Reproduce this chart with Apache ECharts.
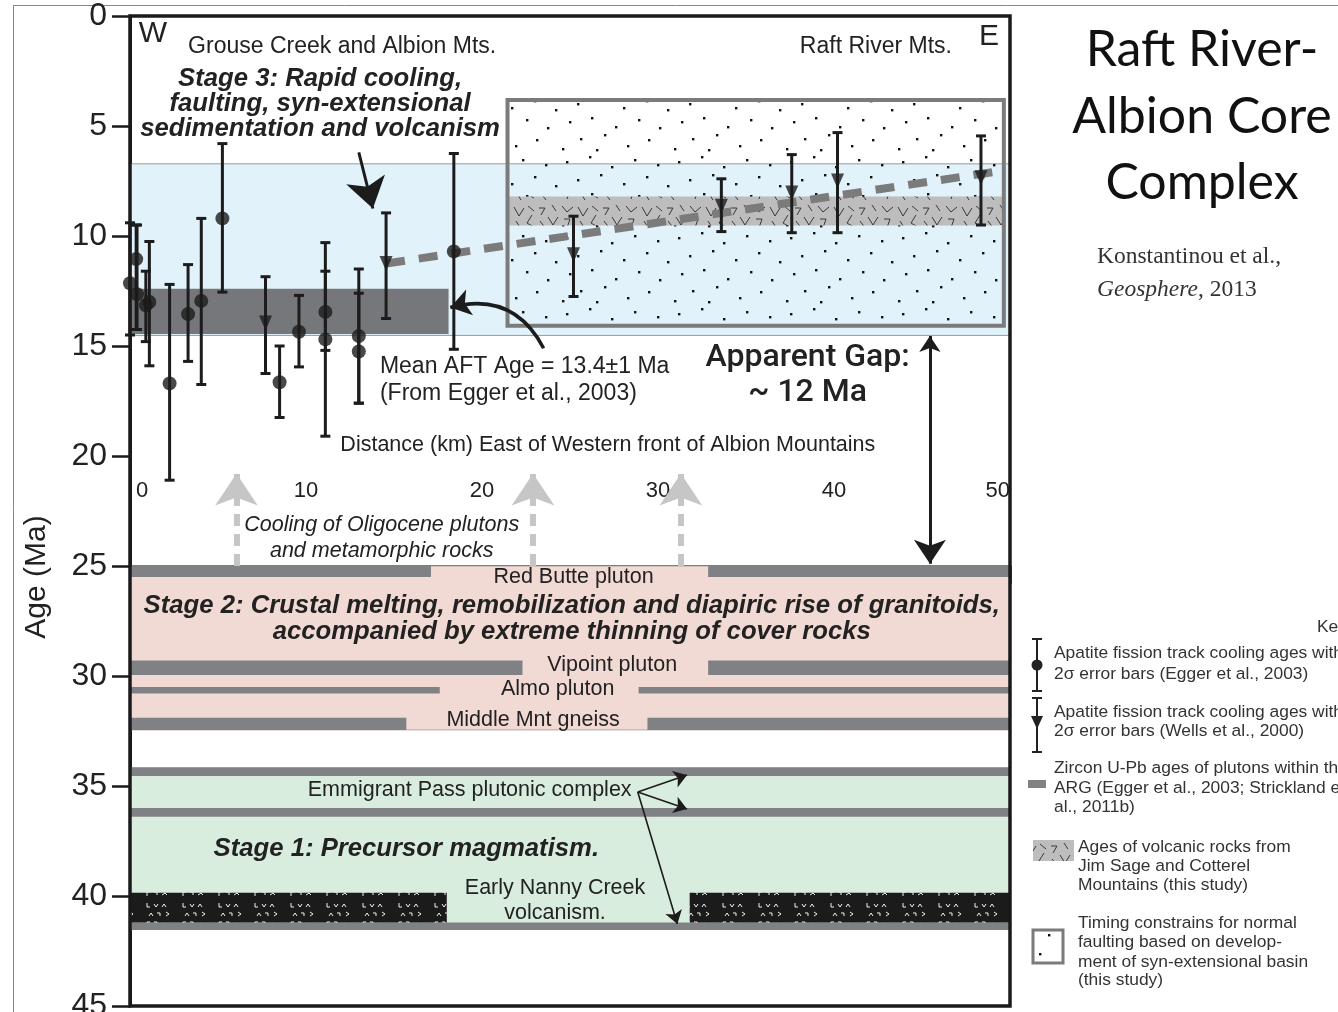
<!DOCTYPE html>
<html>
<head>
<meta charset="utf-8">
<title>Raft River-Albion Core Complex</title>
<script src="https://cdn.jsdelivr.net/npm/echarts@6/dist/echarts.min.js"></script>
<style>
html, body { margin: 0; padding: 0; background: #fff; }
#chart { width: 1338px; height: 1012px; }
</style>
</head>
<body>
<div id="chart"></div>
<script>
// ==============================================================
// data: distance (km) east of Albion front, age (Ma)
// ==============================================================
// [km, age, young end of 2 sigma bar, old end]
var eggerAft = [
    [0.0, 12.15, 9.4, 14.5],
    [0.35, 11.05, 9.5, 14.25],
    [0.4, 12.65, 9.5, 14.25],
    [0.9, 13.15, 11.6, 14.8],
    [1.1, 13.0, 10.25, 15.9],
    [2.25, 16.7, 12.2, 21.1],
    [3.3, 13.55, 11.3, 15.7],
    [4.05, 12.95, 9.2, 16.75],
    [5.25, 9.2, 5.8, 12.55],
    [8.5, 16.65, 15.0, 18.25],
    [9.6, 14.35, 12.7, 15.95],
    [11.1, 13.45, 10.3, 15.2],
    [11.1, 14.7, 11.6, 19.1],
    [13.0, 14.55, 11.5, 17.6],
    [13.0, 15.25, 12.6, 17.6],
    [18.4, 10.7, 6.25, 15.15]
];
var wellsAft = [
    [7.7, 13.95, 11.85, 16.25],
    [14.55, 11.25, 8.95, 13.75],
    [25.2, 10.85, 9.1, 12.75],
    [33.6, 8.65, 7.4, 9.8],
    [37.6, 8.05, 6.3, 9.85],
    [40.2, 7.5, 5.3, 9.85],
    [48.35, 7.35, 5.45, 9.5]
];
var coolingTrend = [[14.55, 11.25], [49.0, 7.1]];

// [km from, km to, age top, age bottom]
var stage3Band = [[0, 50, 6.72, 14.52]];
var meanAftBand = [[0, 18.1, 12.4, 14.45]];
var basinBox = [[21.45, 49.65, 3.82, 14.08]];
var volcanicAges = [[21.45, 49.65, 8.2, 9.52]];
var stage2Band = [[0, 50, 25.0, 32.45]];
var stage1Band = [[0, 50, 34.15, 41.55]];
var zirconBars = [
    [0, 17.1, 25.0, 25.5], [32.85, 50, 25.0, 25.5],
    [0, 22.3, 29.3, 29.95], [32.85, 50, 29.3, 29.95],
    [0, 17.6, 30.5, 30.8], [28.9, 50, 30.5, 30.8],
    [0, 15.7, 31.9, 32.45], [29.4, 50, 31.9, 32.45],
    [0, 50, 34.15, 34.55], [0, 50, 36.0, 36.4], [0, 50, 41.2, 41.55]
];
var nannyCreek = [[0, 18.0, 39.85, 41.2], [31.8, 50, 39.85, 41.2]];

var distanceTicks = [0, 10, 20, 30, 40, 50];

// arrows [[km, age], [km, age]]
var stage3Arrow = [[13.0, 6.2], [13.8, 8.75]];
var aftArrow = [[23.5, 15.1], [18.2, 13.25]];
var gapArrow = [[45.45, 14.55], [45.45, 24.9]];
var coolingArrowsKm = [6.05, 22.9, 31.3];
var emmigrantArrows = [
    [[28.85, 35.27], [31.65, 34.5]],
    [[28.85, 35.27], [31.65, 36.05]],
    [[28.85, 35.27], [31.1, 41.27]]
];

// text notes [km, age, text, font, align]
var notes = [
    [1.3, 0.8, 'W', 'big', 'center'],
    [3.3, 1.4, 'Grouse Creek and Albion Mts.', 'place', 'left'],
    [46.7, 1.38, 'Raft River Mts.', 'place', 'right'],
    [48.8, 0.95, 'E', 'big', 'center'],
    [10.8, 2.85, 'Stage 3: Rapid cooling,', 'stage', 'center'],
    [10.8, 4.0, 'faulting, syn-extensional', 'stage', 'center'],
    [10.8, 5.15, 'sedimentation and volcanism', 'stage', 'center'],
    [14.2, 15.95, 'Mean AFT Age = 13.4\u00b11 Ma', 'label', 'left'],
    [14.2, 17.15, '(From Egger et al., 2003)', 'label', 'left'],
    [38.5, 15.55, 'Apparent Gap:', 'gap', 'center'],
    [38.5, 17.15, '~ 12 Ma', 'gap', 'center'],
    [27.15, 19.5, 'Distance (km) East of Western front of Albion Mountains', 'small', 'center'],
    [14.3, 23.15, 'Cooling of Oligocene plutons', 'cool', 'center'],
    [14.3, 24.32, 'and metamorphic rocks', 'cool', 'center'],
    [25.2, 25.5, 'Red Butte pluton', 'small', 'center'],
    [25.1, 26.82, 'Stage 2: Crustal melting, remobilization and diapiric rise of granitoids,', 'stage', 'center'],
    [25.1, 28.0, 'accompanied by extreme thinning of cover rocks', 'stage', 'center'],
    [27.4, 29.5, 'Vipoint pluton', 'small', 'center'],
    [24.3, 30.6, 'Almo pluton', 'small', 'center'],
    [22.9, 32.0, 'Middle Mnt gneiss', 'small', 'center'],
    [19.3, 35.2, 'Emmigrant Pass plutonic complex', 'small', 'center'],
    [15.7, 37.86, 'Stage 1: Precursor magmatism.', 'stage', 'center'],
    [24.15, 39.64, 'Early Nanny Creek', 'small', 'center'],
    [24.15, 40.77, 'volcanism.', 'small', 'center']
];
var fonts = {
    big: '30px "Liberation Sans"',
    place: '23px "Liberation Sans"',
    stage: 'italic bold 25.7px "Liberation Sans"',
    label: '23px "Liberation Sans"',
    gap: '500 32px Roboto',
    small: '21.5px "Liberation Sans"',
    cool: 'italic 21.5px "Liberation Sans"'
};

// ==============================================================
// fill textures
// ==============================================================
function makeTile(w, h, bg, draw) {
    var c = document.createElement('canvas');
    c.width = w;
    c.height = h;
    var ctx = c.getContext('2d');
    if (bg) {
        ctx.fillStyle = bg;
        ctx.fillRect(0, 0, w, h);
    }
    draw(ctx);
    return c;
}
function strokeAll(ctx, list) {
    list.forEach(function (pts) {
        ctx.beginPath();
        ctx.moveTo(pts[0][0], pts[0][1]);
        for (var i = 1; i < pts.length; i++) ctx.lineTo(pts[i][0], pts[i][1]);
        ctx.stroke();
    });
}
var sandTile = makeTile(112, 76, null, function (ctx) {
    ctx.fillStyle = '#111';
    [[6, 9], [29, 4], [51, 14], [74, 7], [97, 12], [17, 27], [40, 22], [63, 31], [86, 24],
     [107, 33], [9, 45], [31, 41], [55, 50], [78, 43], [99, 51], [20, 62], [44, 58], [67, 69],
     [88, 63], [2, 72], [36, 73]].forEach(function (p) {
        ctx.fillRect(p[0], p[1], 2.4, 2.4);
    });
});
var volcTile = makeTile(64, 29, '#bdbdbd', function (ctx) {
    ctx.strokeStyle = '#3a3a3a';
    ctx.lineWidth = 1;
    strokeAll(ctx, [
        [[2, 4], [7, 13], [12, 5]], [[16, 3], [22, 8]], [[20, 12], [15, 20], [22, 24]],
        [[27, 5], [33, 5], [29, 12]], [[36, 14], [41, 22], [46, 14]], [[50, 3], [55, 9], [61, 4]],
        [[4, 18], [9, 26]], [[28, 18], [34, 26]], [[52, 16], [58, 16], [55, 25]], [[40, 2], [44, 8]]
    ]);
});
var basaltTile = makeTile(36, 30, '#1b1b1b', function (ctx) {
    ctx.strokeStyle = '#f2f2f2';
    ctx.lineWidth = 1;
    strokeAll(ctx, [
        [[3, 3], [3, 7], [6, 7]], [[10, 4], [12, 7], [14, 4]], [[18, 7], [20, 4], [22, 7]],
        [[5, 16], [7, 13], [9, 16]], [[13, 13], [16, 13], [16, 16]], [[22, 12], [25, 14], [22, 16]],
        [[3, 26], [3, 22], [6, 22]], [[10, 22], [13, 22], [13, 25]], [[18, 25], [21, 23], [23, 25]]
    ]);
});
function pattern(tile) {
    return { image: tile, repeat: 'repeat' };
}

// ==============================================================
// series helpers
// ==============================================================
function bandSeries(name, rows, z, style) {
    return {
        type: 'custom', name: name, z: z, silent: true, data: rows,
        renderItem: function (params, api) {
            var a = api.coord([api.value(0), api.value(2)]);
            var b = api.coord([api.value(1), api.value(3)]);
            return {
                type: 'rect',
                shape: { x: a[0], y: a[1], width: b[0] - a[0], height: b[1] - a[1] },
                style: Object.assign({}, style)
            };
        }
    };
}
function errorBarSeries(name, rows) {
    return {
        type: 'custom', name: name, z: 7, silent: true, data: rows,
        renderItem: function (params, api) {
            var x = api.value(0);
            var a = api.coord([x, api.value(2)]);
            var b = api.coord([x, api.value(3)]);
            var w = 5;
            var s = { stroke: '#1c1c1c', lineWidth: 3 };
            return {
                type: 'group', children: [
                    { type: 'line', shape: { x1: a[0], y1: a[1], x2: b[0], y2: b[1] }, style: s },
                    { type: 'line', shape: { x1: a[0] - w, y1: a[1], x2: a[0] + w, y2: a[1] }, style: s },
                    { type: 'line', shape: { x1: b[0] - w, y1: b[1], x2: b[0] + w, y2: b[1] }, style: s }
                ]
            };
        }
    };
}
function arrowSeries(list, color, width, head, extra) {
    return Object.assign({
        type: 'lines', coordinateSystem: 'cartesian2d', silent: true, z: 8,
        symbol: ['none', 'arrow'], symbolSize: head,
        lineStyle: { color: color, width: width, opacity: 1 },
        data: list.map(function (c) { return { coords: c }; })
    }, extra || {});
}

// ==============================================================
// graphic outside the plot (title, key)
// ==============================================================
function txt(x, y, s, font, align, fill) {
    return {
        type: 'text', x: x, y: y, silent: true,
        style: { text: s, font: font, fill: fill || '#333', align: align || 'left', verticalAlign: 'middle' }
    };
}
var keyFont = '17.4px "Liberation Sans"';
var titleFont = '50px Lato';
var graphics = [
    { type: 'line', shape: { x1: 13, y1: 5.5, x2: 1338, y2: 5.5 }, style: { stroke: '#888', lineWidth: 1 } },
    { type: 'line', shape: { x1: 13.5, y1: 5.5, x2: 13.5, y2: 1012 }, style: { stroke: '#888', lineWidth: 1 } },
    {
        type: 'text', x: 37, y: 577, rotation: Math.PI / 2,
        style: { text: 'Age (Ma)', font: '30px "Liberation Sans"', fill: '#222', align: 'center', verticalAlign: 'middle' }
    },
    txt(1202, 50, 'Raft River-', titleFont, 'center', '#111'),
    txt(1202, 117, 'Albion Core', titleFont, 'center', '#111'),
    txt(1202, 183, 'Complex', titleFont, 'center', '#111'),
    txt(1097, 257, 'Konstantinou et al.,', '23.5px "Liberation Serif"', 'left', '#333'),
    {
        type: 'text', x: 1097, y: 290,
        style: {
            text: '{i|Geosphere}, 2013', font: '23.5px "Liberation Serif"', fill: '#333', verticalAlign: 'middle',
            rich: { i: { font: 'italic 23.5px "Liberation Serif"', fill: '#333' } }
        }
    },
    txt(1317, 627, 'Key', keyFont, 'left'),
    // key 1
    { type: 'line', shape: { x1: 1037, y1: 639, x2: 1037, y2: 691 }, style: { stroke: '#222', lineWidth: 2 } },
    { type: 'line', shape: { x1: 1032, y1: 639, x2: 1042, y2: 639 }, style: { stroke: '#222', lineWidth: 2 } },
    { type: 'line', shape: { x1: 1032, y1: 691, x2: 1042, y2: 691 }, style: { stroke: '#222', lineWidth: 2 } },
    { type: 'circle', shape: { cx: 1037, cy: 665, r: 5.5 }, style: { fill: '#222' } },
    txt(1054, 653, 'Apatite fission track cooling ages with', keyFont),
    txt(1054, 674, '2\u03c3 error bars (Egger et al., 2003)', keyFont),
    // key 2
    { type: 'line', shape: { x1: 1037, y1: 698, x2: 1037, y2: 752 }, style: { stroke: '#222', lineWidth: 2 } },
    { type: 'line', shape: { x1: 1032, y1: 698, x2: 1042, y2: 698 }, style: { stroke: '#222', lineWidth: 2 } },
    { type: 'line', shape: { x1: 1032, y1: 752, x2: 1042, y2: 752 }, style: { stroke: '#222', lineWidth: 2 } },
    { type: 'polygon', shape: { points: [[1031, 716], [1043, 716], [1037, 729]] }, style: { fill: '#222' } },
    txt(1054, 712, 'Apatite fission track cooling ages with', keyFont),
    txt(1054, 731, '2\u03c3 error bars (Wells et al., 2000)', keyFont),
    // key 3
    { type: 'rect', shape: { x: 1028, y: 780, width: 18, height: 8 }, style: { fill: '#808185' } },
    txt(1054, 768, 'Zircon U-Pb ages of plutons within the', keyFont),
    txt(1054, 788, 'ARG (Egger et al., 2003; Strickland et', keyFont),
    txt(1054, 807, 'al., 2011b)', keyFont),
    // key 4
    { type: 'rect', shape: { x: 1033, y: 840, width: 41, height: 21 }, style: { fill: pattern(volcTile) } },
    txt(1078, 847, 'Ages of volcanic rocks from', keyFont),
    txt(1078, 866, 'Jim Sage and Cotterel', keyFont),
    txt(1078, 885, 'Mountains (this study)', keyFont),
    // key 5
    { type: 'rect', shape: { x: 1033, y: 930, width: 30, height: 33 }, style: { fill: pattern(sandTile), stroke: '#7b7b7b', lineWidth: 3 } },
    txt(1078, 923, 'Timing constrains for normal', keyFont),
    txt(1078, 942, 'faulting based on develop-', keyFont),
    txt(1078, 962, 'ment of syn-extensional basin', keyFont),
    txt(1078, 980, '(this study)', keyFont)
];

// ==============================================================
// chart
// ==============================================================
var chart = echarts.init(document.getElementById('chart'));
var option = {
    backgroundColor: '#fff',
    animation: false,
    grid: { left: 130, right: 328, top: 16, bottom: 6, outerBoundsMode: 'none' },
    xAxis: {
        type: 'value', min: 0, max: 50, interval: 10, position: 'bottom', offset: -550,
        axisLine: { lineStyle: { color: '#1a1a1a', width: 2.5 } },
        axisTick: { length: 18, lineStyle: { color: '#1a1a1a', width: 2.5 } },
        axisLabel: {
            margin: 24, fontSize: 22, color: '#222', fontFamily: 'Liberation Sans',
            alignMinLabel: 'left', alignMaxLabel: 'right',
            formatter: function (v) {
                if (distanceTicks.indexOf(v) < 0) return '';
                return v === 0 ? ' 0' : String(v);
            }
        },
        splitLine: { show: false }
    },
    yAxis: {
        type: 'value', inverse: true, min: 0, max: 45, interval: 5,
        axisLine: { lineStyle: { color: '#1a1a1a', width: 3 } },
        axisTick: { length: 18, lineStyle: { color: '#1a1a1a', width: 2.5 } },
        axisLabel: { margin: 23, fontSize: 32, color: '#222', fontFamily: 'Liberation Sans' },
        splitLine: { show: false }
    },
    graphic: graphics,
    series: [
        bandSeries('stage 3', stage3Band, 1, { fill: '#e1f2fb', stroke: '#9a9a9a', lineWidth: 1 }),
        bandSeries('stage 2', stage2Band, 1, { fill: '#f2dad4', stroke: '#b0a8a6', lineWidth: 1 }),
        bandSeries('stage 1', stage1Band, 1, { fill: '#d9eddf' }),
        bandSeries('mean AFT', meanAftBand, 2, { fill: '#76777b' }),
        bandSeries('zircon U-Pb', zirconBars, 2, { fill: '#808185' }),
        bandSeries('Nanny Creek', nannyCreek, 2, { fill: pattern(basaltTile) }),
        bandSeries('basin', basinBox, 3, { fill: pattern(sandTile) }),
        bandSeries('volcanic ages', volcanicAges, 4, { fill: pattern(volcTile) }),
        bandSeries('basin frame', basinBox, 5, { fill: null, stroke: '#7b7b7b', lineWidth: 4 }),
        {
            type: 'line', name: 'trend', data: coolingTrend, z: 6, silent: true,
            symbol: 'none', lineStyle: { color: '#7b7b7b', width: 8, type: [19, 14], cap: 'butt' }
        },
        errorBarSeries('Egger bars', eggerAft),
        errorBarSeries('Wells bars', wellsAft),
        {
            type: 'scatter', name: 'Egger et al., 2003', z: 8, silent: true,
            data: eggerAft.map(function (d) { return [d[0], d[1]]; }),
            symbol: 'circle', symbolSize: 14, itemStyle: { color: '#1c1c1c' }
        },
        {
            type: 'scatter', name: 'Wells et al., 2000', z: 8, silent: true,
            data: wellsAft.map(function (d) { return [d[0], d[1]]; }),
            symbol: 'triangle', symbolRotate: 180, symbolSize: [13, 15], itemStyle: { color: '#1c1c1c' }
        },
        arrowSeries([stage3Arrow], '#1c1c1c', 3, [22, 30]),
        arrowSeries([aftArrow], '#1c1c1c', 3.5, [16, 20], {
            lineStyle: { color: '#1c1c1c', width: 3.5, curveness: -0.4, opacity: 1 }
        }),
        arrowSeries([gapArrow], '#1c1c1c', 3, [16, 24], { symbol: ['arrow', 'arrow'] }),
        arrowSeries(coolingArrowsKm.map(function (k) { return [[k, 25.0], [k, 20.8]]; }), '#c6c6c6', 6, [26, 32], {
            lineStyle: { color: '#c6c6c6', width: 6, type: [12, 8], opacity: 1 }
        }),
        arrowSeries(emmigrantArrows, '#1c1c1c', 1.6, [9, 13]),
        {
            type: 'custom', name: 'notes', z: 9, silent: true,
            data: notes.map(function (n, i) { return [n[0], n[1], i]; }),
            renderItem: function (params, api) {
                var n = notes[params.dataIndex];
                var p = api.coord([n[0], n[1]]);
                return {
                    type: 'text', x: p[0], y: p[1],
                    style: { text: n[2], font: fonts[n[3]], fill: '#222', align: n[4], verticalAlign: 'middle' }
                };
            }
        },
        bandSeries('frame', [[0, 50, 0, 45]], 10, { fill: null, stroke: '#1a1a1a', lineWidth: 3.5 })
    ]
};
chart.setOption(option);
</script>
</body>
</html>
